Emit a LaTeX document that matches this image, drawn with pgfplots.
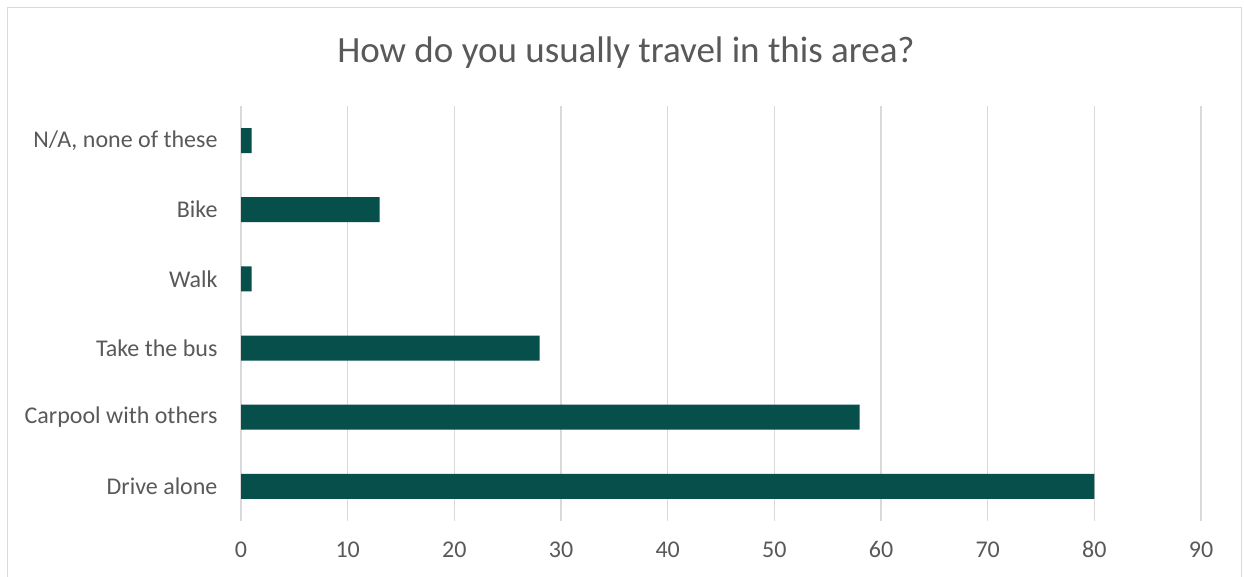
\documentclass[border=0pt]{standalone}
\usepackage{fontspec}
\setmainfont{Carlito}
\usepackage{pgfplots}
\pgfplotsset{compat=1.18}
\definecolor{barc}{HTML}{064F4B}
\definecolor{gridc}{HTML}{D9D9D9}
\definecolor{txt}{HTML}{595959}
\begin{document}
\begin{tikzpicture}
\path[use as bounding box, fill=white] (0pt,0pt) rectangle (1244pt,577pt);
\draw[gridc, line width=1.2pt] (7.5pt,0pt) -- (7.5pt,569.5pt) -- (1241.5pt,569.5pt) -- (1241.5pt,0pt);
\node[txt, font=\fontsize{37}{44}\selectfont, anchor=center] at (626pt,524pt) {How do you usually travel in this area?};
\begin{axis}[
  at={(241pt,56pt)}, anchor=south west,
  scale only axis, width=960pt, height=415pt,
  xmin=0, xmax=90, ymin=-0.5, ymax=5.5,
  xbar, bar width=25pt,
  axis line style={draw=none},
  xtick={0,10,...,90},
  ytick={0,1,2,3,4,5},
  yticklabels={Drive alone, Carpool with others, Take the bus, Walk, Bike, {N/A, none of these}},
  major tick length=0pt,
  xmajorgrids, major grid style={gridc, line width=1.4pt},
  ymajorgrids=false,
  /pgf/number format/assume math mode=true,
  tick label style={txt, font=\fontsize{24}{29}\selectfont},
  xticklabel style={yshift=-17pt},
  yticklabel style={xshift=-20pt},
]
\addplot[fill=barc, draw=none] coordinates {(80,0) (58,1) (28,2) (1,3) (13,4) (1,5)};
\end{axis}
\end{tikzpicture}
\end{document}
